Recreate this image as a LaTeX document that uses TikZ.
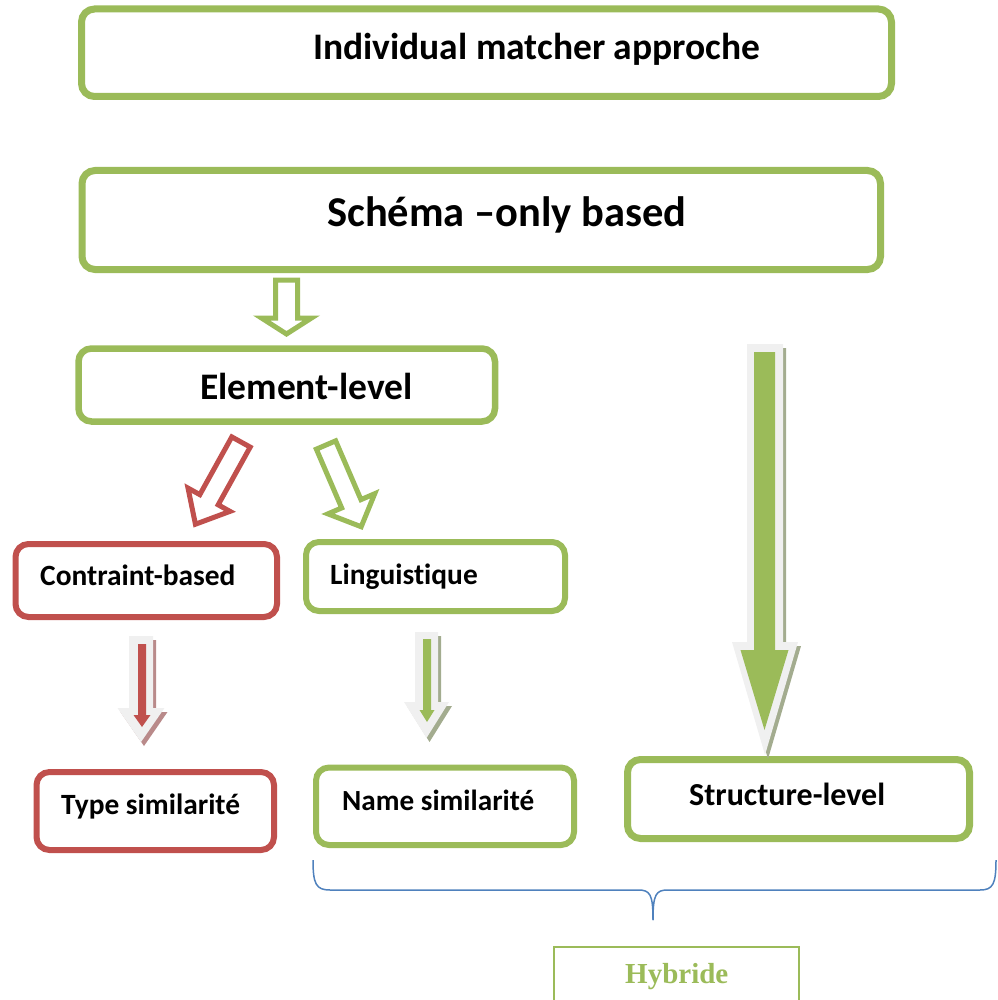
\documentclass[tikz,border=0pt]{standalone}
\usepackage{fontspec}
\setmainfont{Carlito}[Ligatures=NoCommon]
\newfontfamily\hybfont{Liberation Serif}
\definecolor{accgreen}{HTML}{9BBB59}
\definecolor{accred}{HTML}{C0504D}
\definecolor{accblue}{HTML}{4F81BD}
\definecolor{bevel}{HTML}{F0F0F0}
\definecolor{gshadow}{HTML}{A3AC8F}
\definecolor{rshadow}{HTML}{B98A8A}
% block arrow outline: tail centre at the origin, pointing along +y
% #1 length, #2 shaft half-width, #3 head half-width, #4 head length
\newcommand{\arrowpath}[4]{(-#2,0) -- (#2,0) -- (#2,#1-#4) -- (#3,#1-#4) -- (0,#1) -- (-#3,#1-#4) -- (-#2,#1-#4) -- cycle}
\begin{document}
\begin{tikzpicture}[x=1pt,y=-1pt,
  box/.style={rectangle, rounded corners=13pt, line width=6pt, fill=white, inner sep=0pt},
  gbox/.style={box, draw=accgreen},
  rbox/.style={box, draw=accred},
  lbl/.style={anchor=base west, inner sep=0pt, font=\bfseries\fontsize{#1}{#1}\selectfont},
  hollow/.style={line width=5pt, fill=white, line join=miter},
  brace/.style={draw=accblue, line width=1.5pt}]
\useasboundingbox (0,0) rectangle (997,1000);
\clip (0,0) rectangle (997,1000);

% boxes
\node[gbox, line width=7pt, minimum width=810, minimum height=87.5] (top) at (486.5,52.75) {};
\node[gbox, line width=7pt, minimum width=798.5, minimum height=99] (schema) at (481.25,220) {};
\node[gbox, line width=6.5pt, minimum width=416.5, minimum height=73] (elem) at (286.75,385) {};
\node[rbox, minimum width=261.5, minimum height=73] (contr) at (146.25,580.5) {};
\node[gbox, minimum width=259, minimum height=69] (ling) at (435.5,576.5) {};
\node[rbox, minimum width=237.5, minimum height=78] (type) at (155.25,811) {};
\node[gbox, minimum width=258, minimum height=77.5] (name) at (445,806.25) {};
\node[gbox, line width=7pt, minimum width=342, minimum height=79] (struct) at (798.5,799) {};
\node[draw=accgreen, line width=1.2pt, fill=white, minimum width=245, minimum height=66, inner sep=0pt] (hyb) at (676.5,980) {};

% labels
\node[lbl=37.5] (ttop) at (313,60) {Individual matcher approche};
\node[lbl=42.5] (tschema) at (327,227) {Schéma –only based};
\node[lbl=37.5] (telem) at (200,399) {Element-level};
\node[lbl=29.4] (tcontr) at (40,585) {Contraint-based};
\node[lbl=29.4] (tling) at (330,584) {Linguistique};
\node[lbl=29.4] (ttype) at (61,814) {Type similarité};
\node[lbl=29.2] (tname) at (342,810) {Name similarité};
\node[lbl=32] (tstruct) at (689,805) {Structure-level};
\node[anchor=base west, inner sep=0pt, text=accgreen, font=\hybfont\bfseries\fontsize{29}{29}\selectfont] (thyb) at (625,983) {Hybride};

% hollow arrows
\draw[hollow, draw=accgreen] [shift={(286.5,280)}] \arrowpath{54}{11}{25}{16};
\draw[hollow, draw=accred] [shift={(241,442)}, rotate=-29] \arrowpath{94}{10.5}{24}{28};
\draw[hollow, draw=accgreen] [shift={(326,445)}, rotate=23.3] \arrowpath{89}{10.5}{25.5}{25};

% bevelled arrows
\begin{scope}[shift={(765,344)}]
  \fill[gshadow] [shift={(3,4)}] \arrowpath{411}{18}{33}{113};
  \fill[bevel] \arrowpath{411}{18}{33}{113};
\end{scope}
\fill[accgreen] [shift={(764.5,352)}] \arrowpath{378}{10.5}{24}{80};

\begin{scope}[shift={(141,636)}]
  \fill[rshadow] [shift={(3,4)}] \arrowpath{106}{12}{23.5}{34};
  \fill[bevel] \arrowpath{106}{12}{23.5}{34};
\end{scope}
\fill[accred] [shift={(142,644)}] \arrowpath{83}{4}{8.5}{12};

\begin{scope}[shift={(426.5,632)}]
  \fill[gshadow] [shift={(3,4)}] \arrowpath{106}{11.5}{22.5}{36};
  \fill[bevel] \arrowpath{106}{11.5}{22.5}{36};
\end{scope}
\fill[accgreen] [shift={(427,639)}] \arrowpath{83}{4}{7.5}{12};

% brace over the hybrid group
\coordinate (bl) at (313,860);
\coordinate (bt) at (653,920);
\coordinate (br) at (996,860);
\draw[brace] (bl) .. controls (313,884) and (316,890) .. (330,890) -- (638,890) .. controls (650,890) and (653,894) .. (bt);
\draw[brace] (br) .. controls (996,884) and (993,890) .. (980,890) -- (668,890) .. controls (656,890) and (653,894) .. (bt);
\end{tikzpicture}
\end{document}
